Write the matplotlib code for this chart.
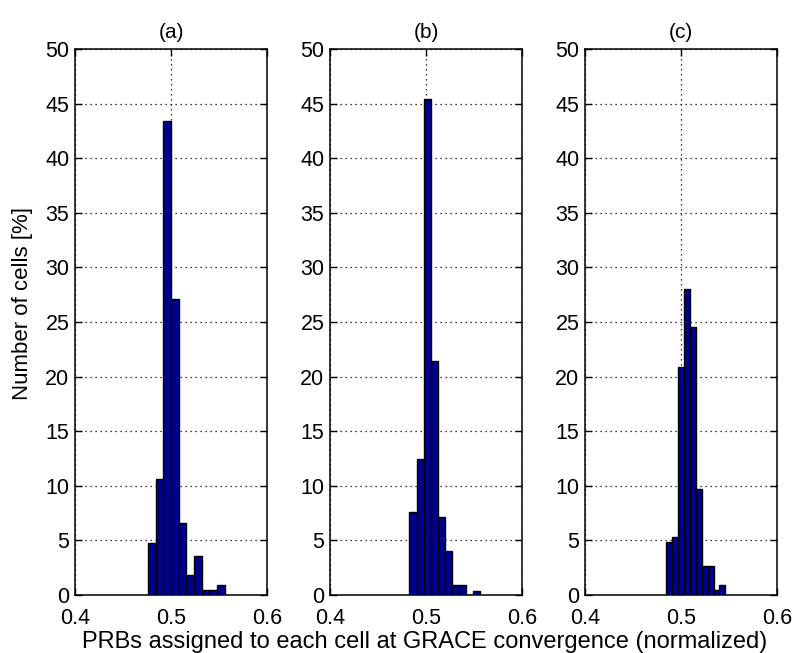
import matplotlib
matplotlib.use("Agg")
import matplotlib.pyplot as plt
import numpy as np

plt.rcParams['font.family'] = ['Liberation Sans', 'DejaVu Sans']

# bin edges (first edge, bin width) and heights [%] for each panel
titles = ['(a)', '(b)', '(c)']
start_a, width_a = 0.476, 0.008
pct_a = [4.8, 10.6, 43.4, 27.1, 6.6, 1.8, 3.6, 0.45, 0.45, 0.88]
start_b, width_b = 0.4828, 0.00738
pct_b = [7.6, 12.5, 45.4, 21.4, 7.1, 4.05, 0.88, 0.88, 0.0, 0.41]
start_c, width_c = 0.4842, 0.00621
pct_c = [4.84, 5.3, 20.9, 28.0, 24.5, 9.75, 2.7, 2.7, 0.44, 0.88]

panels = [(start_a, width_a, pct_a), (start_b, width_b, pct_b), (start_c, width_c, pct_c)]
xticks = [0.4, 0.5, 0.6]
xticklabels = ['0.4', '0.5', '0.6']
yticks = list(range(0, 51, 5))

fig = plt.figure(figsize=(7.96, 6.53), dpi=100)
lefts = [75, 330, 585]
for i, (st, w, pct) in enumerate(panels):
    ax = fig.add_axes([lefts[i] / 796, 58 / 653, 192 / 796, 546 / 653])
    edges = st + w * np.arange(len(pct))
    ax.bar(edges, pct, width=w, align='edge', color='#00008F',
           edgecolor='black', linewidth=1.0, zorder=3)
    ax.set_xlim(0.4, 0.6)
    ax.set_ylim(0, 50)
    ax.set_xticks(xticks)
    ax.set_xticklabels(xticklabels)
    ax.set_yticks(yticks)
    ax.grid(True, linestyle=(0, (1, 3)), color='black', linewidth=0.9, zorder=0)
    ax.tick_params(direction='in', length=5, width=1, labelsize=15.5,
                   top=True, right=True)
    ax.tick_params(axis='x', pad=9)
    ax.tick_params(axis='y', pad=4)
    for s in ax.spines.values():
        s.set_linewidth(1.1)
    ax.set_title(titles[i], fontsize=15, pad=8)

fig.text(23 / 796, 1 - 304 / 653, 'Number of cells [%]', rotation=90,
         ha='center', va='center', fontsize=16)
fig.text(425 / 796, 5 / 653, 'PRBs assigned to each cell at GRACE convergence (normalized)',
         ha='center', va='baseline', fontsize=17)

fig.savefig('out.png', dpi=100)
